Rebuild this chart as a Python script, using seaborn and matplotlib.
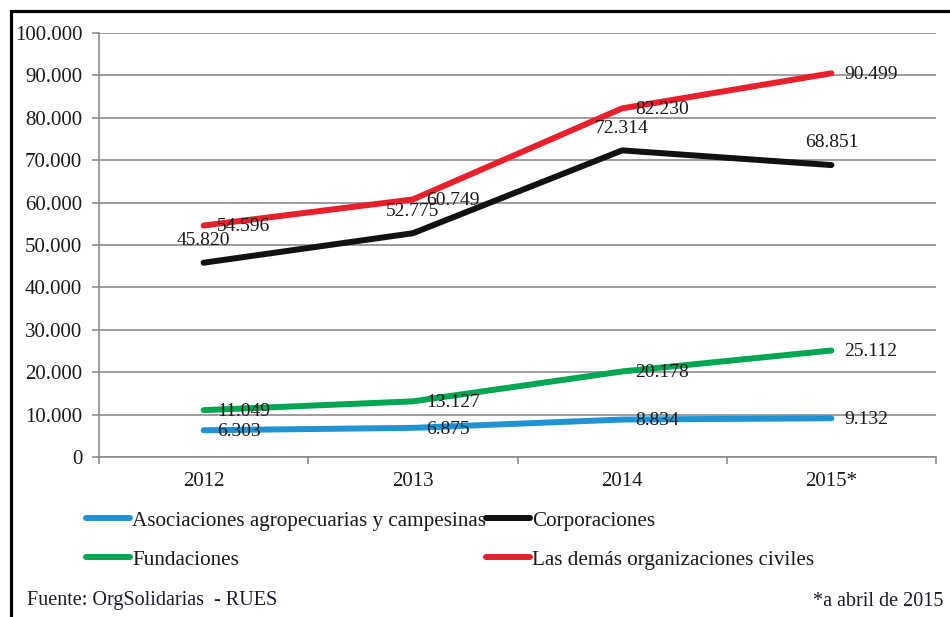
import matplotlib
matplotlib.use("Agg")
import matplotlib.pyplot as plt
import matplotlib.patches as mpatches
from matplotlib.ticker import FixedLocator, FuncFormatter
import seaborn as sns
import pandas as pd

years = ["2012", "2013", "2014", "2015*"]
asociaciones = [6303, 6875, 8834, 9132]
corporaciones = [45820, 52775, 72314, 68851]
fundaciones = [11049, 13127, 20178, 25112]
demas = [54596, 60749, 82230, 90499]

series_names = ["Asociaciones agropecuarias y campesinas", "Corporaciones",
                "Fundaciones", "Las demás organizaciones civiles"]
series_values = [asociaciones, corporaciones, fundaciones, demas]
colors = ["#1F93D3", "#111111", "#00A651", "#E8202C"]
label_pos = ["right", "above", "right", "right"]

rows = []
for name, vals in zip(series_names, series_values):
    for i, (y, v) in enumerate(zip(years, vals)):
        rows.append({"idx": i, "year": y, "value": v, "serie": name})
df = pd.DataFrame(rows)

sns.set_theme(style="white")
plt.rcParams["font.family"] = ["Liberation Serif", "DejaVu Serif"]

fig = plt.figure(figsize=(9.5, 6.17), dpi=100)
ax = fig.add_axes([99/950, 1 - 457/617, (936 - 99)/950, (457 - 33)/617])

sns.lineplot(data=df, x="idx", y="value", hue="serie", hue_order=series_names,
             palette=colors, linewidth=4.3, ax=ax, legend=True,
             solid_capstyle="round")

def fmt(v):
    return f"{int(v):,}".replace(",", ".")

for name, vals, pos in zip(series_names, series_values, label_pos):
    for i, v in enumerate(vals):
        if pos == "right":
            ax.annotate(fmt(v), (i, v), xytext=(9.5, -1), textcoords="offset points",
                        ha="left", va="center", fontsize=14, color="#1a1a1a")
        else:
            ax.annotate(fmt(v), (i, v), xytext=(0, 16), textcoords="offset points",
                        ha="center", va="center", fontsize=14, color="#1a1a1a")

ax.set_xlim(-0.5, 3.5)
ax.set_ylim(0, 100000)
ax.yaxis.set_major_locator(FixedLocator(list(range(0, 100001, 10000))))
ax.yaxis.set_major_formatter(FuncFormatter(lambda v, p: fmt(v)))
ax.xaxis.set_major_locator(FixedLocator([0, 1, 2, 3]))
ax.set_xticklabels(years)
ax.xaxis.set_minor_locator(FixedLocator([-0.5, 0.5, 1.5, 2.5, 3.5]))
ax.grid(axis="y", color="#8c8c8c", linewidth=1.2)
ax.set_axisbelow(True)
ax.set_xlabel("")
ax.set_ylabel("")
for s in ["top", "right"]:
    ax.spines[s].set_visible(False)
for s in ["left", "bottom"]:
    ax.spines[s].set_color("#8c8c8c")
    ax.spines[s].set_linewidth(1.2)
ax.tick_params(axis="y", which="major", left=True, length=5, width=1.2,
               color="#8c8c8c", pad=7, labelsize=15, labelcolor="#1a1a1a")
ax.tick_params(axis="x", which="major", bottom=False, length=0, pad=11,
               labelsize=15, labelcolor="#1a1a1a")
ax.tick_params(axis="x", which="minor", bottom=True, length=5, width=1.2,
               color="#8c8c8c")

handles, labels = ax.get_legend_handles_labels()
ax.get_legend().remove()
hmap = dict(zip(labels, handles))
order = [series_names[0], series_names[2], series_names[1], series_names[3]]
leg = fig.legend([hmap[n] for n in order], order, loc="upper left",
                 bbox_to_anchor=(86/950, 1 - 511/617), ncol=2, frameon=False,
                 fontsize=15.2, handlelength=2.1, handletextpad=0.08,
                 columnspacing=0.0, labelspacing=0.9, borderpad=0,
                 borderaxespad=0)
for t in leg.get_texts():
    t.set_color("#1a1a1a")

fig.text(27/950, 1 - 601/617, "Fuente: OrgSolidarias  - RUES", ha="left",
         va="center", fontsize=14.5, color="#1a1a2a")
fig.text(943/950, 1 - 601/617, "*a abril de 2015", ha="right",
         va="center", fontsize=14.5, color="#1a1a2a")

frame = mpatches.Rectangle((11/950, -0.1), 1.2, 1.1 - 11/617 + 0.0,
                           transform=fig.transFigure, fill=False,
                           edgecolor="black", linewidth=2.3, clip_on=False)
fig.patches.append(frame)

fig.savefig("out.png", dpi=100)
